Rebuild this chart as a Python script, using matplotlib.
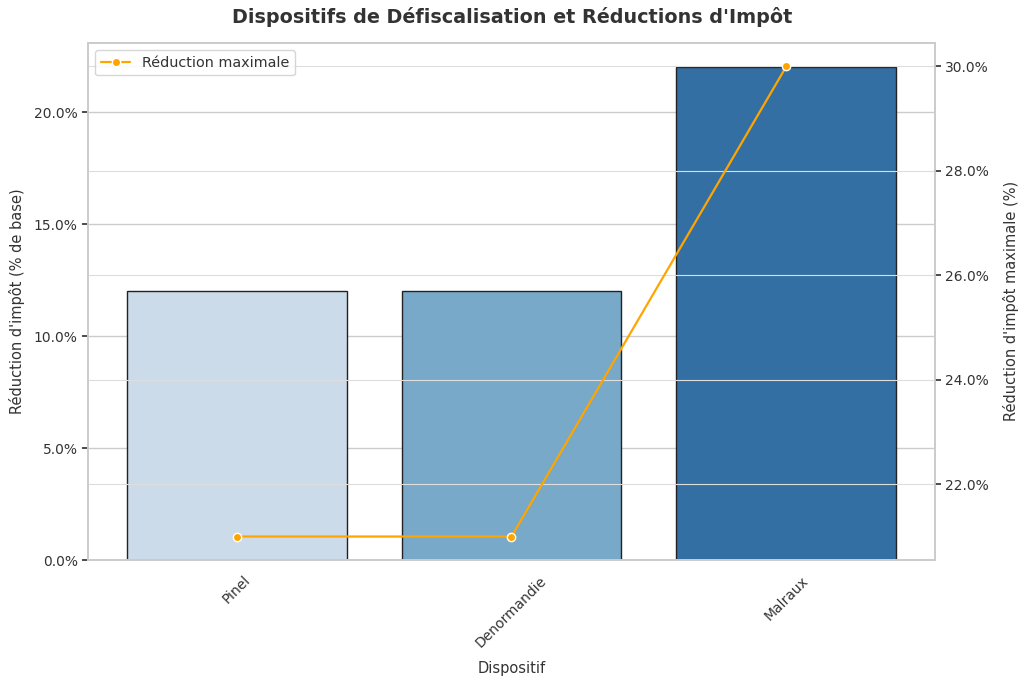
import numpy as np
import matplotlib as mpl; mpl.use("Agg")
import matplotlib.pyplot as plt
import seaborn as sns
from matplotlib.ticker import FuncFormatter

sns.set_theme(style="whitegrid")
plt.rcParams["font.family"] = ["DejaVu Sans"]
plt.rcParams["text.color"] = "#333333"
plt.rcParams["axes.labelcolor"] = "#333333"
plt.rcParams["xtick.color"] = "#333333"
plt.rcParams["ytick.color"] = "#333333"

DISPOSITIFS = ["Pinel", "Denormandie", "Malraux"]
REDUCTION_BASE = [12, 12, 22]      # % de base
REDUCTION_MAX = [21, 21, 30]       # % maximale
BAR_COLORS = ["#cbdbea", "#78a9c8", "#346fa3"]

fig, ax = plt.subplots(figsize=(10.24, 6.78), dpi=100)
fig.subplots_adjust(left=0.086, right=0.913, top=0.937, bottom=0.174)

x = np.arange(len(DISPOSITIFS))
ax.bar(x, REDUCTION_BASE, width=0.8, color=BAR_COLORS, edgecolor="#222222", lw=1.0, zorder=2)
ax.set_xlim(-0.54, len(DISPOSITIFS) - 0.46)
ax.set_ylim(0, max(REDUCTION_BASE) * 1.05)
ax.set_xticks(x)
ax.set_xticklabels(DISPOSITIFS, rotation=45, fontsize=10)
ax.yaxis.set_major_formatter(FuncFormatter(lambda v, p: f"{v:.1f}%"))
ax.set_xlabel("Dispositif", fontsize=10.5, labelpad=8)
ax.set_ylabel("Réduction d'impôt (% de base)", fontsize=10.5, labelpad=6)
ax.tick_params(axis="y", left=True, length=4, color="#333333", labelsize=10)
ax.grid(axis="x", visible=False)
for s in ax.spines.values():
    s.set_color("#cccccc")

ax2 = ax.twinx()
ax2.plot(x, REDUCTION_MAX, color="orange", marker="o", ms=6, mec="white", mew=1.0,
         lw=1.6, label="Réduction maximale", zorder=3)
ax2.yaxis.set_major_formatter(FuncFormatter(lambda v, p: f"{v:.1f}%"))
ax2.set_ylabel("Réduction d'impôt maximale (%)", fontsize=10.5, labelpad=10)
ax2.tick_params(axis="y", right=True, length=4, color="#333333", labelsize=10)
ax2.grid(True, color="#dddddd", lw=0.8)
for s in ax2.spines.values():
    s.set_color("#cccccc")
ax2.legend(loc="upper left", fontsize=10.4, frameon=True)

fig.suptitle("Dispositifs de Défiscalisation et Réductions d'Impôt",
             fontsize=13.8, fontweight="bold", y=0.99)

fig.savefig("out.png", dpi=100, facecolor="white")
